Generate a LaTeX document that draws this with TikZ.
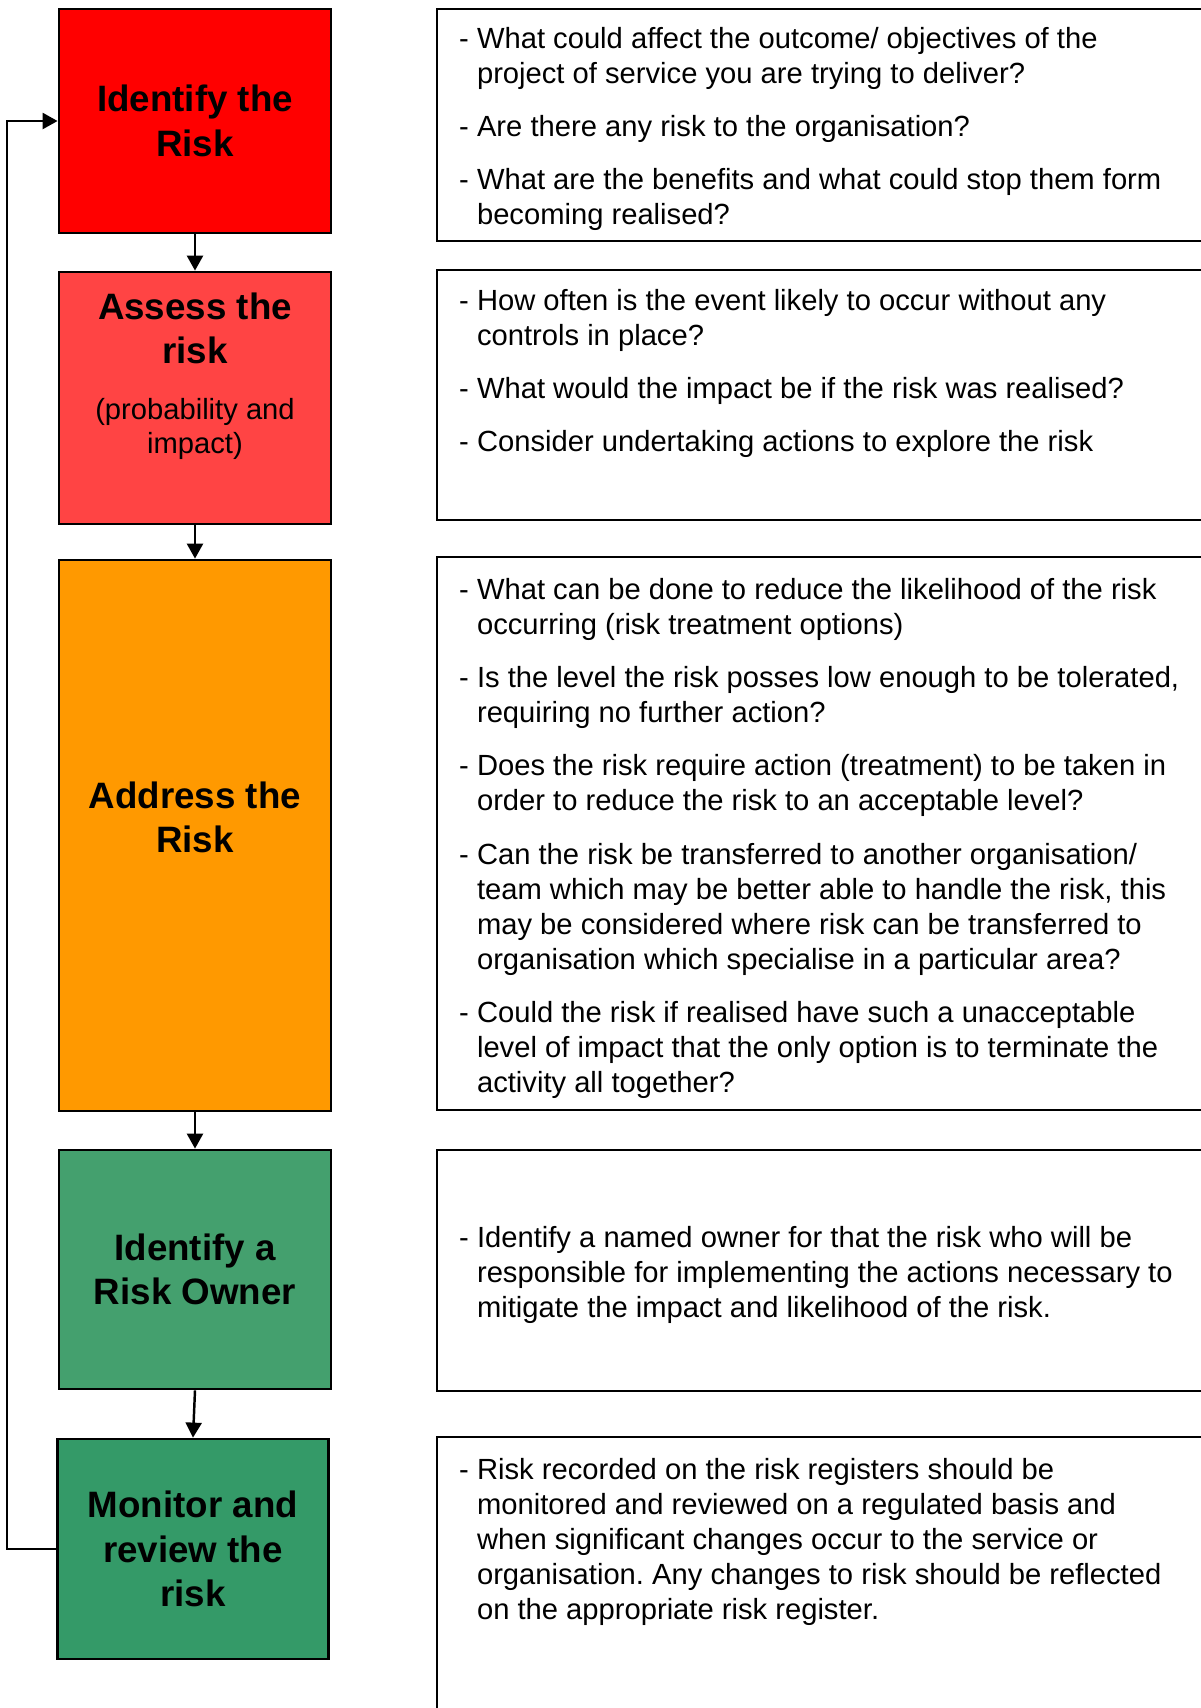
\documentclass[tikz,border=0pt]{standalone}
\usepackage{fontspec}
\setmainfont{Liberation Sans}
\usetikzlibrary{arrows.meta}
\frenchspacing

\definecolor{identred}{HTML}{FF0000}
\definecolor{assessred}{HTML}{FF4444}
\definecolor{addressorange}{HTML}{FF9900}
\definecolor{ownergreen}{HTML}{44A06E}
\definecolor{monitorgreen}{HTML}{349A68}

\tikzset{
  stepbox/.style={draw, line width=0.8pt, inner sep=0pt, minimum width=2.72cm,
    align=center, font=\fontsize{10.45}{12.6}\selectfont\bfseries},
  steptitle/.style={inner sep=0pt, align=center, font=\fontsize{10.45}{12.6}\selectfont\bfseries},
  stepsub/.style={inner sep=0pt, align=center, font=\fontsize{8.3}{9.9}\selectfont},
  notebox/.style={draw, line width=0.8pt, inner sep=0pt, minimum width=7.78cm},
  notetext/.style={inner sep=0pt, align=left, font=\fontsize{8.3}{10}\selectfont},
}
\newcommand{\itemgap}{\\[5.1pt]}
\newcommand{\contind}{\hphantom{- }}

\begin{document}
\begin{tikzpicture}[>={Triangle[length=0.15cm,width=0.16cm]}, line width=0.7pt]
  \useasboundingbox (0,0) rectangle (12.01,-17.08);
  \clip (0,0) rectangle (12.01,-17.08);
  % steps on the left
  \node[stepbox, fill=identred, minimum height=2.24cm] (identify) at (1.95,-1.21) {Identify the\\Risk};
  \node[stepbox, fill=assessred, minimum height=2.52cm] (assess) at (1.95,-3.98) {};
  \node[steptitle] (assesstitle) at (1.95,-3.285) {Assess the\\risk};
  \node[stepsub] (assesssub) at (1.95,-4.29) {(probability and\\impact)};
  \node[stepbox, fill=addressorange, minimum height=5.51cm] (address) at (1.95,-8.355) {};
  \node[steptitle] (addresstitle) at (1.95,-8.17) {Address the\\Risk};
  \node[stepbox, fill=ownergreen, minimum height=2.39cm] (owner) at (1.95,-12.695) {Identify a\\Risk Owner};
  \node[stepbox, fill=monitorgreen, minimum width=2.71cm, minimum height=2.20cm] (monitor) at (1.93,-15.49)
       {Monitor and\\review the\\risk};
  % arrows down the steps and back to the start
  \draw[->] (identify) -- (assess);
  \draw[->] (assess) -- (address);
  \draw[->] (address) -- (owner);
  \draw[->] (owner.south) -- (monitor.north);
  \draw[->] (monitor.west) -- ++(-0.49,0) |- (identify.west);

  % notes on the right
  \node[notebox, minimum height=2.32cm] (box1) at (8.26,-1.249) {};
  \node[notetext, anchor=north west] (note1) at (4.58,-0.26)
       {- What could affect the outcome/ objectives of the\\
        \contind project of service you are trying to deliver?\itemgap
        - Are there any risk to the organisation?\itemgap
        - What are the benefits and what could stop them form\\
        \contind becoming realised?};
  \node[notebox, minimum height=2.50cm] (box2) at (8.26,-3.95) {};
  \node[notetext, anchor=north west] (note2) at (4.58,-2.88)
       {- How often is the event likely to occur without any\\
        \contind controls in place?\itemgap
        - What would the impact be if the risk was realised?\itemgap
        - Consider undertaking actions to explore the risk};
  \node[notebox, minimum height=5.53cm] (box3) at (8.26,-8.335) {};
  \node[notetext, anchor=north west] (note3) at (4.58,-5.77)
       {- What can be done to reduce the likelihood of the risk\\
        \contind occurring (risk treatment options)\itemgap
        - Is the level the risk posses low enough to be tolerated,\\
        \contind requiring no further action?\itemgap
        - Does the risk require action (treatment) to be taken in\\
        \contind order to reduce the risk to an acceptable level?\itemgap
        - Can the risk be transferred to another organisation/\\
        \contind team which may be better able to handle the risk, this\\
        \contind may be considered where risk can be transferred to\\
        \contind organisation which specialise in a particular area?\itemgap
        - Could the risk if realised have such a unacceptable\\
        \contind level of impact that the only option is to terminate the\\
        \contind activity all together?};
  \node[notebox, minimum height=2.41cm] (box4) at (8.26,-12.705) {};
  \node[notetext, anchor=west] (note4) at (4.58,-12.75)
       {- Identify a named owner for that the risk who will be\\
        \contind responsible for implementing the actions necessary to\\
        \contind mitigate the impact and likelihood of the risk.};
  \node[notebox, minimum height=2.83cm] (box5) at (8.26,-15.785) {};
  \node[notetext, anchor=north west] (note5) at (4.58,-14.57)
       {- Risk recorded on the risk registers should be\\
        \contind monitored and reviewed on a regulated basis and\\
        \contind when significant changes occur to the service or\\
        \contind organisation. Any changes to risk should be reflected\\
        \contind on the appropriate risk register.};
\end{tikzpicture}
\end{document}
